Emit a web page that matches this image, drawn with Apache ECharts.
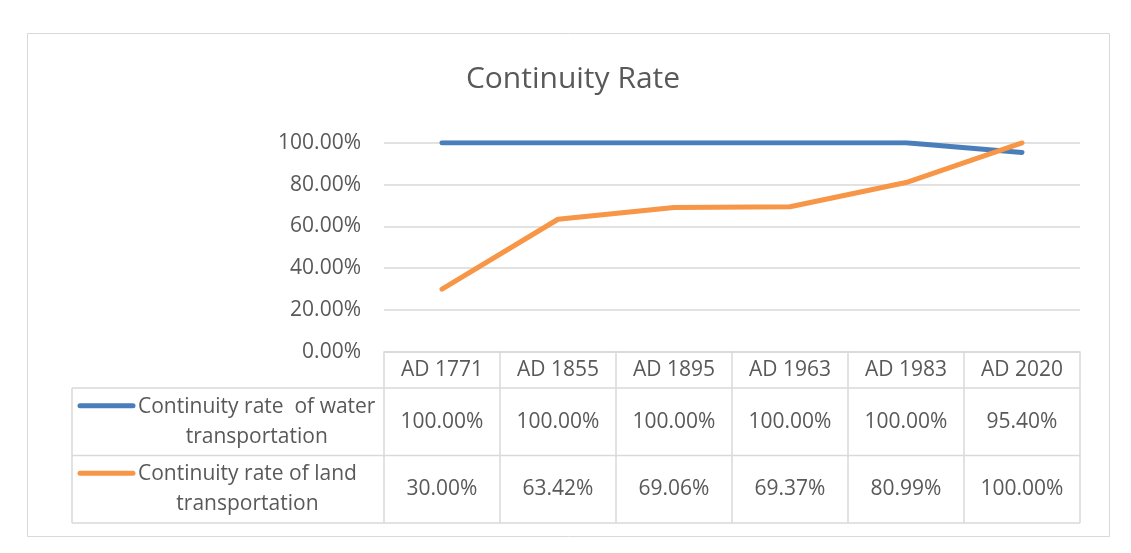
<!DOCTYPE html>
<html>
<head>
<meta charset="utf-8">
<script src="https://cdn.jsdelivr.net/npm/echarts@6/dist/echarts.min.js"></script>
<style>
html,body{margin:0;padding:0;background:#fff;}
#chart{width:1131px;height:553px;}
</style>
</head>
<body>
<div id="chart"></div>
<script>
const categories = ['AD 1771', 'AD 1855', 'AD 1895', 'AD 1963', 'AD 1983', 'AD 2020'];
const waterValues = [100.00, 100.00, 100.00, 100.00, 100.00, 95.40];
const landValues = [30.00, 63.42, 69.06, 69.37, 80.99, 100.00];
const seriesNames = ['Continuity rate  of water\ntransportation', 'Continuity rate of land\ntransportation'];
const yTicks = [0, 20, 40, 60, 80, 100];

const FONT = 'Open Sans';
const TXT = '#595959';
const GRID = '#d9d9d9';
const colors = ['#4A7EBB', '#F79646'];

const chart = echarts.init(document.getElementById('chart'));

const option = {
  animation: false,
  backgroundColor: '#fff',
  title: {
    text: 'Continuity Rate',
    left: 568,
    top: 59,
    textAlign: 'center',
    textStyle: { fontFamily: FONT, fontSize: 30, fontWeight: 'normal', color: TXT }
  },
  grid: { left: 384, right: 51, top: 142.8, height: 209 },
  xAxis: {
    type: 'category',
    data: categories,
    boundaryGap: true,
    axisLine: { show: true, lineStyle: { color: GRID, width: 1.5 } },
    axisTick: { show: true, length: 36, lineStyle: { color: GRID, width: 1.5 } },
    axisLabel: { fontFamily: FONT, fontSize: 21, color: TXT, margin: 8 },
    splitLine: { show: false }
  },
  yAxis: {
    type: 'value',
    min: yTicks[0],
    max: yTicks[yTicks.length - 1],
    interval: 20,
    axisLine: { show: false },
    axisTick: { show: false },
    axisLabel: {
      fontFamily: FONT, fontSize: 21, color: TXT, margin: 23,
      formatter: v => v.toFixed(2) + '%'
    },
    splitLine: { lineStyle: { color: GRID, width: 1.5 } }
  },
  series: [
    {
      name: seriesNames[0], type: 'line', data: waterValues,
      showSymbol: false, symbol: 'none',
      lineStyle: { color: colors[0], width: 5, cap: 'round', join: 'round' },
      itemStyle: { color: colors[0] }
    },
    {
      name: seriesNames[1], type: 'line', data: landValues,
      showSymbol: false, symbol: 'none',
      lineStyle: { color: colors[1], width: 5, cap: 'round', join: 'round' },
      itemStyle: { color: colors[1] }
    }
  ]
};
chart.setOption(option);

// measure text widths for legend blocks
const mctx = document.createElement('canvas').getContext('2d');
mctx.font = '21px "' + FONT + '"';
function blockWidth(t) {
  return Math.max.apply(null, t.split('\n').map(s => mctx.measureText(s).width));
}

// Build the data table under the plot from the axis scales
const y0 = chart.convertToPixel({ yAxisIndex: 0 }, 0);
const c0 = chart.convertToPixel({ xAxisIndex: 0 }, categories[0]);
const c1 = chart.convertToPixel({ xAxisIndex: 0 }, categories[1]);
const band = c1 - c0;
const xLeft = c0 - band / 2;
const xRight = chart.convertToPixel({ xAxisIndex: 0 }, categories[categories.length - 1]) + band / 2;
const legendLeft = 72;
const catRowH = 36.3;
const rowH = 67.4;
const rowTops = [y0 + catRowH, y0 + catRowH + rowH, y0 + catRowH + 2 * rowH];
const lineStyle = { stroke: GRID, lineWidth: 1.5 };

const g = [];
// outer chart border
g.push({ type: 'rect', shape: { x: 27.5, y: 33.5, width: 1082, height: 503 }, style: { fill: null, stroke: GRID, lineWidth: 1 }, silent: true });
// horizontal lines
rowTops.forEach(yy => {
  g.push({ type: 'line', shape: { x1: legendLeft, y1: yy, x2: xRight, y2: yy }, style: lineStyle, silent: true });
});
// left border of legend column
g.push({ type: 'line', shape: { x1: legendLeft, y1: rowTops[0], x2: legendLeft, y2: rowTops[2] }, style: lineStyle, silent: true });
// vertical lines for value rows
for (let i = 0; i <= categories.length; i++) {
  const xx = xLeft + i * band;
  g.push({ type: 'line', shape: { x1: xx, y1: rowTops[0], x2: xx, y2: rowTops[2] }, style: lineStyle, silent: true });
}
const rows = [waterValues, landValues];
rows.forEach((vals, r) => {
  const cy = rowTops[r] + rowH / 2;
  vals.forEach((v, i) => {
    const cx = chart.convertToPixel({ xAxisIndex: 0 }, categories[i]);
    g.push({ type: 'text', x: cx, y: cy, style: { text: v.toFixed(2) + '%', fontFamily: FONT, fontSize: 21, fill: TXT, align: 'center', verticalAlign: 'middle' }, silent: true });
  });
  // legend key
  g.push({ type: 'line', shape: { x1: 80, y1: cy - 16, x2: 133, y2: cy - 16 }, style: { stroke: colors[r], lineWidth: 5, lineCap: 'round' }, silent: true });
  const bw = blockWidth(seriesNames[r]);
  g.push({ type: 'text', x: 138 + bw / 2, y: cy, style: { text: seriesNames[r], fontFamily: FONT, fontSize: 21, lineHeight: 30, fill: TXT, align: 'center', verticalAlign: 'middle' }, silent: true });
});
chart.setOption({ graphic: g });
</script>
</body>
</html>
